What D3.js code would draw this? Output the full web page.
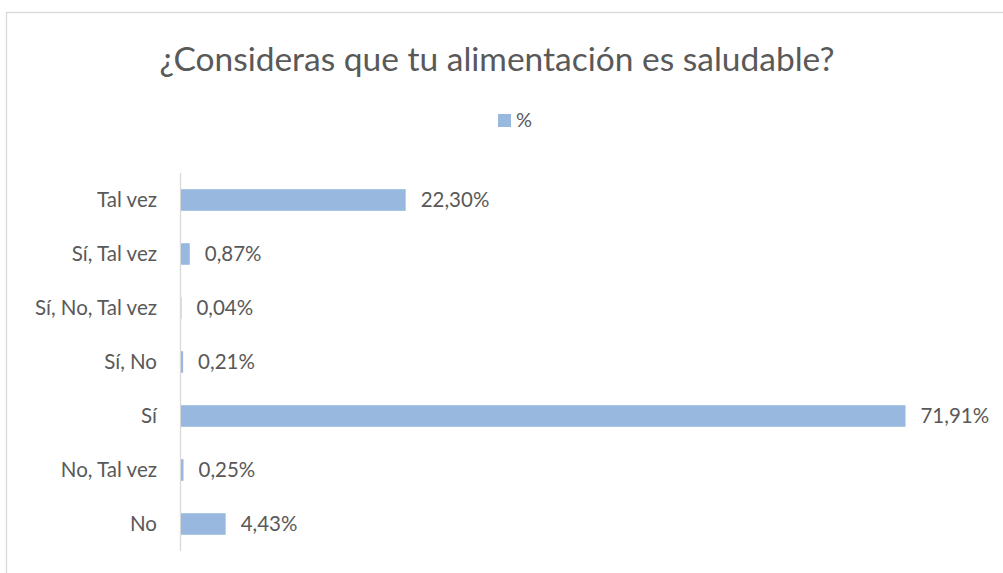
<!DOCTYPE html>
<html>
<head>
<meta charset="utf-8">
<script src="https://cdn.jsdelivr.net/npm/d3@7"></script>
<style>
    body { margin: 0; background: #fff; }
    svg text { font-family: Lato, "Open Sans", sans-serif; fill: #595959; }
</style>
</head>
<body>
<div id="chart"></div>
<script>
// data
const categories = ["Tal vez", "Sí, Tal vez", "Sí, No, Tal vez", "Sí, No", "Sí", "No, Tal vez", "No"];
const values = [22.30, 0.87, 0.04, 0.21, 71.91, 0.25, 4.43];
const seriesName = "%";
const chartTitle = "¿Consideras que tu alimentación es saludable?";

const width = 1003, height = 573;
const margin = { top: 173, right: 17, bottom: 22, left: 180 };

const svg = d3.select("#chart").append("svg")
    .attr("width", width)
    .attr("height", height);

// outer chart border (cropped on right/bottom)
svg.append("rect")
    .attr("x", 6.5).attr("y", 12.5)
    .attr("width", 1010).attr("height", 580)
    .attr("fill", "none")
    .attr("stroke", "#d9d9d9")
    .attr("stroke-width", 1.3);

// title
svg.append("text")
    .attr("x", 497).attr("y", 71)
    .attr("text-anchor", "middle")
    .style("font-size", "33.5px")
    .text(chartTitle);

// legend
const legend = svg.append("g").attr("transform", "translate(498,114)");
legend.append("rect").attr("width", 13).attr("height", 13).attr("fill", "#98b8df");
legend.append("text").attr("x", 18).attr("y", 13).style("font-size", "20px").text(seriesName);

// scales
const x = d3.scaleLinear()
    .domain([0, 80])
    .range([margin.left, margin.left + 806]);

const y = d3.scaleBand()
    .domain(categories)
    .range([margin.top, height - margin.bottom])
    .paddingInner(0.6)
    .paddingOuter(0.3);

// axis line
svg.append("line")
    .attr("x1", x(0) + 0.5).attr("x2", x(0) + 0.5)
    .attr("y1", margin.top).attr("y2", height - margin.bottom)
    .attr("stroke", "#d9d9d9")
    .attr("stroke-width", 1.3);

// category labels
svg.selectAll(".cat")
    .data(categories)
    .enter().append("text")
    .attr("class", "cat")
    .attr("x", 157)
    .attr("y", d => y(d) + y.bandwidth() / 2)
    .attr("dy", "0.35em")
    .attr("text-anchor", "end")
    .style("font-size", "20.5px")
    .text(d => d);

const rows = categories.map((c, i) => ({ cat: c, value: values[i] }));

// bars
svg.selectAll(".bar")
    .data(rows)
    .enter().append("rect")
    .attr("class", "bar")
    .attr("x", x(0) + 1)
    .attr("y", d => y(d.cat))
    .attr("width", d => Math.max(0, x(d.value) - x(0)))
    .attr("height", y.bandwidth())
    .attr("fill", "#98b8df");

// value labels
const fmt = v => v.toFixed(2).replace(".", ",") + "%";
svg.selectAll(".val")
    .data(rows)
    .enter().append("text")
    .attr("class", "val")
    .attr("x", d => x(d.value) + 16)
    .attr("y", d => y(d.cat) + y.bandwidth() / 2)
    .attr("dy", "0.35em")
    .style("font-size", "20.5px")
    .text(d => fmt(d.value));
</script>
</body>
</html>
